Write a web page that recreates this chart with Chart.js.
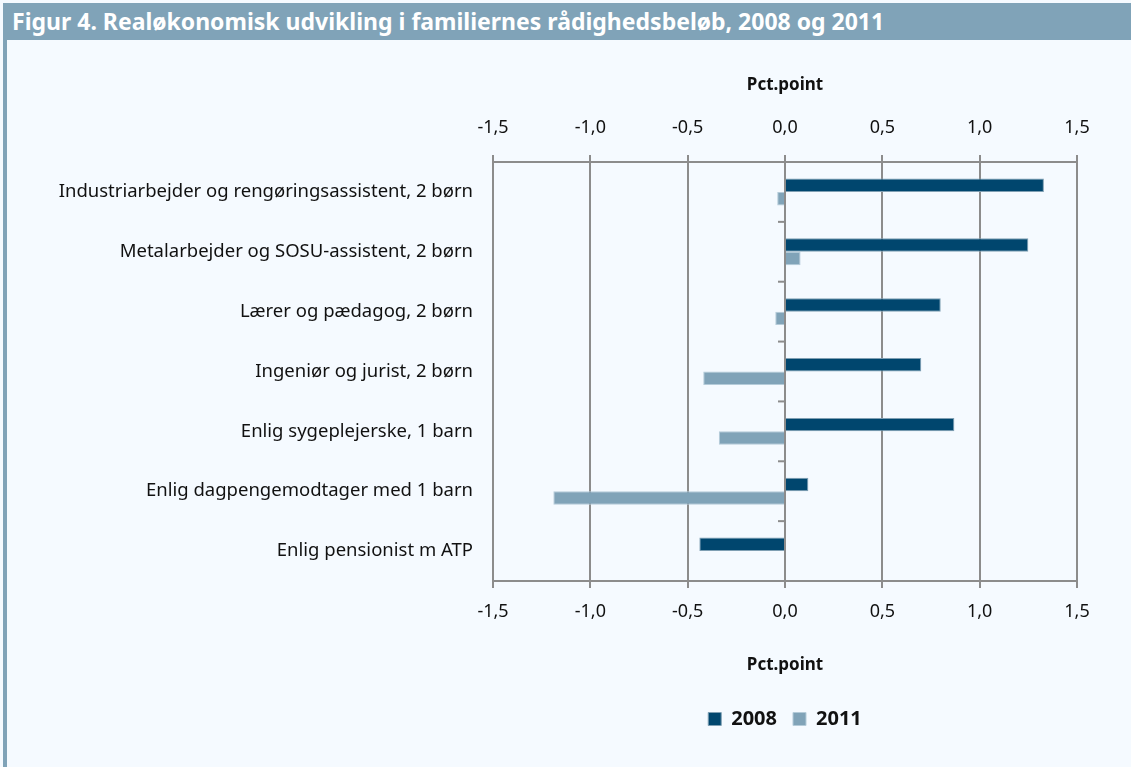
<!DOCTYPE html>
<html lang="da">
<head>
  <meta charset="UTF-8">
  <title>Figur 4</title>
  <script src="https://cdn.jsdelivr.net/npm/chart.js"></script>
  <style>
    html, body { margin: 0; padding: 0; background: #f5faff; }
    body { width: 1131px; height: 767px; position: relative; overflow: hidden; font-family: "Noto Sans", sans-serif; }
    .banner {
      position: absolute; left: 3px; top: 3px; right: 0; height: 37px;
      background: #80a3b8; color: #fff; font-weight: bold; font-size: 23px;
      line-height: 37px; padding-left: 9px; box-sizing: border-box; white-space: nowrap;
    }
    .side { position: absolute; left: 3px; top: 40px; width: 4px; bottom: 0; background: #80a3b8; }
    .chart-container { position: absolute; left: 7px; top: 40px; width: 1124px; height: 727px; }
  </style>
</head>
<body>
  <div class="banner">Figur 4. Realøkonomisk udvikling i familiernes rådighedsbeløb, 2008 og 2011</div>
  <div class="side"></div>
  <div class="chart-container">
    <canvas id="chart"></canvas>
  </div>

  <script>
    const categories = [
      'Industriarbejder og rengøringsassistent, 2 børn',
      'Metalarbejder og SOSU-assistent, 2 børn',
      'Lærer og pædagog, 2 børn',
      'Ingeniør og jurist, 2 børn',
      'Enlig sygeplejerske, 1 barn',
      'Enlig dagpengemodtager med 1 barn',
      'Enlig pensionist m ATP'
    ];
    const values2008 = [1.33, 1.25, 0.80, 0.70, 0.87, 0.12, -0.44];
    const values2011 = [-0.04, 0.08, -0.05, -0.42, -0.34, -1.19, null];
    const axisMin = -1.5;
    const axisMax = 1.5;
    const axisStep = 0.5;
    const axisTitle = 'Pct.point';

    const gridGrey = '#8c8c8c';
    const labelFont = { family: 'Noto Sans', size: 18.5 };
    const tickFont = { family: 'Noto Sans', size: 18 };
    const titleFont = { family: 'Noto Sans', size: 17, weight: 'bold' };
    const fmt = v => v.toFixed(1).replace('.', ',');

    // small category ticks on the zero line, left side
    const zeroTicks = {
      id: 'zeroTicks',
      afterDraw(chart) {
        const x = chart.scales.x.getPixelForValue(0);
        const y = chart.scales.y;
        const ctx = chart.ctx;
        const step = (y.getPixelForValue(1) - y.getPixelForValue(0));
        ctx.save();
        ctx.strokeStyle = gridGrey;
        ctx.lineWidth = 2;
        for (let i = 0; i <= categories.length; i++) {
          const py = y.getPixelForValue(0) - step / 2 + i * step;
          ctx.beginPath();
          ctx.moveTo(x - 7, py);
          ctx.lineTo(x, py);
          ctx.stroke();
        }
        ctx.restore();
      }
    };

    new Chart(document.getElementById('chart'), {
      type: 'bar',
      data: {
        labels: categories,
        datasets: [
          {
            label: '2008',
            data: values2008,
            backgroundColor: '#00466e',
            borderColor: '#7f9fb3',
            borderWidth: 1,
            borderSkipped: 'start',
            categoryPercentage: 0.45,
            barPercentage: 1
          },
          {
            label: '2011',
            data: values2011,
            backgroundColor: '#80a3b8',
            borderColor: '#b4cbd9',
            borderWidth: 1,
            borderSkipped: 'start',
            categoryPercentage: 0.45,
            barPercentage: 1
          }
        ]
      },
      options: {
        indexAxis: 'y',
        responsive: true,
        maintainAspectRatio: false,
        animation: false,
        layout: { padding: { right: 54, bottom: 28 } },
        plugins: {
          legend: {
            position: 'bottom',
            fullSize: false,
            labels: {
              boxWidth: 13, boxHeight: 13, padding: 16,
              color: '#111',
              font: { family: 'Noto Sans', size: 20, weight: 'bold' }
            }
          },
          tooltip: { enabled: false }
        },
        scales: {
          x: {
            position: 'bottom',
            min: axisMin, max: axisMax,
            ticks: { stepSize: axisStep, color: '#111', font: tickFont, padding: 13, callback: v => fmt(v) },
            grid: { color: gridGrey, lineWidth: 2, tickLength: 7 },
            border: { display: true, color: gridGrey, width: 2 },
            title: { display: true, text: axisTitle, color: '#111', font: titleFont, padding: { bottom: 18 } },
            afterFit: s => { s.height = 112; }
          },
          x2: {
            position: 'top',
            min: axisMin, max: axisMax,
            ticks: { stepSize: axisStep, color: '#111', font: tickFont, padding: 16, callback: v => fmt(v) },
            grid: { drawOnChartArea: false, color: gridGrey, lineWidth: 2, tickLength: 7 },
            border: { display: true, color: gridGrey, width: 2 },
            title: { display: true, text: axisTitle, color: '#111', font: titleFont, padding: { top: 35 } },
            afterFit: s => { s.height = 122; }
          },
          y: {
            ticks: { color: '#111', font: labelFont, padding: 20 },
            grid: { display: false, drawTicks: false },
            border: { display: false },
            afterFit: s => { s.width = 486; }
          }
        }
      },
      plugins: [zeroTicks]
    });
  </script>
</body>
</html>
